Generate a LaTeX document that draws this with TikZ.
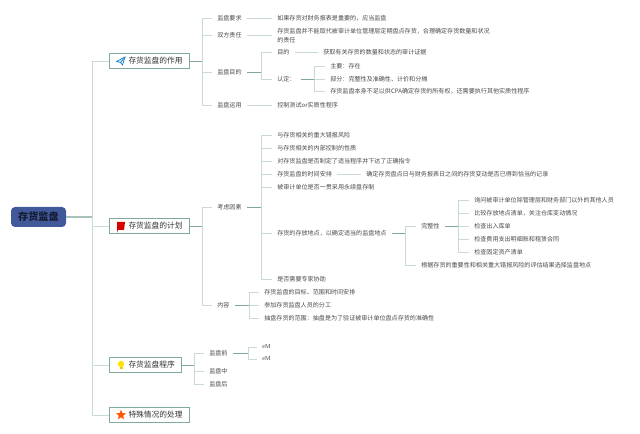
\documentclass[tikz,border=0pt]{standalone}
\usepackage{fontspec}
\setmainfont{Noto Sans CJK SC}
\newfontfamily\latinserif{Liberation Serif}
\usetikzlibrary{calc, positioning}
\usetikzlibrary{shapes.geometric}
\definecolor{rootblue}{HTML}{41599B}
\definecolor{roottext}{HTML}{141C33}
\definecolor{boxline}{HTML}{7FAA9C}
\definecolor{lightlink}{HTML}{C9DAD3}
\definecolor{darklink}{HTML}{7FA898}
\definecolor{bodytext}{HTML}{4A4A4A}
\tikzset{
  rootbox/.style={fill=rootblue,rounded corners=3pt,minimum width=41.25pt,minimum height=15pt,inner sep=0pt,text=roottext,font=\fontsize{7.6}{9}\selectfont\bfseries},
  mainbox/.style={draw=boxline,line width=0.75pt,fill=white,anchor=west,inner xsep=5.25pt,inner ysep=0pt,minimum height=11.5pt,text=black!80,font=\fontsize{5.8}{7}\selectfont},
  leaf/.style={anchor=west,inner xsep=3.8pt,inner ysep=0pt,text=bodytext,align=left,font=\fontsize{4.55}{6.75}\selectfont},
  link/.style={draw=lightlink,line width=0.7pt},
  hub/.style={draw=darklink,line width=0.7pt},
}
\begin{document}
\begin{tikzpicture}[x=0.75pt,y=-0.75pt]
\useasboundingbox[fill=white] (0,0) rectangle (640,434);

% Root and the four main boxes
\node[rootbox] (root) at (38.5,217) {存货监盘};
\node[mainbox] (role) at (109,61) {\hspace*{9pt}存货监盘的作用};
\node[mainbox] (plan) at (109,226) {\hspace*{9pt}存货监盘的计划};
\node[mainbox] (proc) at (109,365) {\hspace*{9pt}存货监盘程序};
\node[mainbox] (special) at (109,415) {\hspace*{9pt}特殊情况的处理};

% Icons inside the boxes
\draw[cyan!60!blue,line width=0.5pt,fill=cyan!15] (116.5,61.5) -- (125,57) -- (122.5,65) -- (120.5,62.5) -- cycle;
\draw[cyan!60!blue,line width=0.5pt] (120.5,62.5) -- (125,57);
\fill[red!85!black] (117,222) -- (125,222) -- (124,230) -- (118,230) -- (117,233) -- cycle;
\fill[yellow!85!orange] (121,364) circle (3.2);
\fill[yellow!60!orange] (119.5,367) rectangle (122.5,369.5);
\node[star,star points=5,star point ratio=2.3,fill=orange!70!red,inner sep=0pt,minimum size=8pt] (staricon) at (121,415) {};

% Branch points
\coordinate (hubmain) at (92,217);
\coordinate (hubrole) at (202,61);
\coordinate (hubaim) at (261,72);
\coordinate (hubconfirm) at (314,79);
\coordinate (hubplan) at (202,226);
\coordinate (hubfactor) at (261,207);
\coordinate (hubplace) at (405,233);
\coordinate (hubfull) at (458,226.5);
\coordinate (hubcontent) at (249,305);
\coordinate (hubproc) at (194,365);
\coordinate (hubbefore) at (248,353);

% First branch
\node[leaf] (demand) at (212,18) {监盘要求};
\node[leaf] (duty) at (212,35) {双方责任};
\node[leaf] (aim) at (212,72) {监盘目的};
\node[leaf] (use) at (212,105) {监盘运用};
\node[leaf] (demandtext) at (272,18) {如果存货对财务报表是重要的，应当监盘};
\node[leaf] (dutytext) at (272,35.5) {存货监盘并不能取代被审计单位管理层定期盘点存货，合理确定存货数量和状况\\的责任};
\node[leaf] (usetext) at (272,105) {控制测试or实质性程序};
\node[leaf] (aimgoal) at (272,52) {目的};
\node[leaf] (confirm) at (272,79) {认定：};
\node[leaf] (aimtext) at (318,52) {获取有关存货的数量和状态的审计证据};
\node[leaf] (mainly) at (325,66) {主要：存在};
\node[leaf] (partly) at (325,79) {部分：完整性及准确性、计价和分摊};
\node[leaf] (notenough) at (325,91.5) {存货监盘本身不足以供CPA确定存货的所有权，还需要执行其他实质性程序};

% Second branch
\node[leaf] (factor) at (212,207) {考虑因素};
\node[leaf] (content) at (212,305) {内容};
\node[leaf] (risk) at (272,135) {与存货相关的重大错报风险};
\node[leaf] (control) at (272,148) {与存货相关的内部控制的性质};
\node[leaf] (order) at (272,161) {对存货监盘是否制定了适当程序并下达了正确指令};
\node[leaf] (timing) at (272,174) {存货监盘的时间安排};
\node[leaf] (perpetual) at (272,187) {被审计单位是否一贯采用永续盘存制};
\node[leaf] (place) at (272,233) {存货的存放地点，以确定适当的监盘地点};
\node[leaf] (expert) at (272,279) {是否需要专家协助};
\node[leaf] (timingtext) at (361,174) {确定存货盘点日与财务报表日之间的存货变动是否已得到恰当的记录};
\node[leaf] (full) at (416,226.5) {完整性};
\node[leaf] (choose) at (416,265.5) {根据存货的重要性和相关重大错报风险的评估结果选择监盘地点};
\node[leaf] (ask) at (469,200) {询问被审计单位除管理层和财务部门以外的其他人员};
\node[leaf] (compare) at (469,213.5) {比较存放地点清单，关注仓库变动情况};
\node[leaf] (stock) at (469,226.5) {检查出入库单};
\node[leaf] (rent) at (469,239.5) {检查费用支出明细账和租赁合同};
\node[leaf] (asset) at (469,252.5) {检查固定资产清单};
\node[leaf] (target) at (259,292) {存货监盘的目标、范围和时间安排};
\node[leaf] (staff) at (259,305) {参加存货监盘人员的分工};
\node[leaf] (sample) at (259,318) {抽盘存货的范围：抽盘是为了验证被审计单位盘点存货的准确性};

% Third branch
\node[leaf] (before) at (204,353) {监盘前};
\node[leaf] (during) at (204,371) {监盘中};
\node[leaf] (after) at (204,384) {监盘后};
\node[leaf,font=\fontsize{4.6}{6}\latinserif] (emone) at (257,347) {eM};
\node[leaf,font=\fontsize{4.6}{6}\latinserif] (emtwo) at (257,359) {eM};

% Connectors from the root
\draw[hub,line width=1pt,draw=boxline!70] (root.east) -- (hubmain);
\draw[link] (hubmain) |- (role.west);
\draw[link] (hubmain) |- (plan.west);
\draw[link] (hubmain) |- (proc.west);
\draw[link] (hubmain) |- (special.west);

% Connectors of the first branch
\draw[hub] (role.east) -- (hubrole);
\draw[link] (hubrole) |- (demand.west);
\draw[link] (hubrole) |- (duty.west);
\draw[link] (hubrole) |- (aim.west);
\draw[link] (hubrole) |- (use.west);
\draw[link] (demand) -- (demandtext);
\draw[link] (duty) -- (duty-|dutytext.west);
\draw[link] (use) -- (usetext);
\draw[hub] (aim.east) -- (hubaim);
\draw[link] (hubaim) |- (aimgoal.west);
\draw[link] (hubaim) |- (confirm.west);
\draw[link] (aimgoal) -- (aimtext);
\draw[hub] (confirm.east) -- (hubconfirm);
\draw[link] (hubconfirm) |- (mainly.west);
\draw[link] (hubconfirm) -- (partly.west);
\draw[link] (hubconfirm) |- (notenough.west);

% Connectors of the second branch
\draw[hub] (plan.east) -- (hubplan);
\draw[link] (hubplan) |- (factor.west);
\draw[link] (hubplan) |- (content.west);
\draw[hub] (factor.east) -- (hubfactor);
\draw[link] (hubfactor) |- (risk.west);
\draw[link] (hubfactor) |- (control.west);
\draw[link] (hubfactor) |- (order.west);
\draw[link] (hubfactor) |- (timing.west);
\draw[link] (hubfactor) |- (perpetual.west);
\draw[link] (hubfactor) |- (place.west);
\draw[link] (hubfactor) |- (expert.west);
\draw[link] (timing) -- (timingtext);
\draw[hub] (place.east) -- (hubplace);
\draw[link] (hubplace) |- (full.west);
\draw[link] (hubplace) |- (choose.west);
\draw[hub] (full.east) -- (hubfull);
\draw[link] (hubfull) |- (ask.west);
\draw[link] (hubfull) |- (compare.west);
\draw[link] (hubfull) -- (stock.west);
\draw[link] (hubfull) |- (rent.west);
\draw[link] (hubfull) |- (asset.west);
\draw[hub] (content.east) -- (hubcontent);
\draw[link] (hubcontent) |- (target.west);
\draw[link] (hubcontent) -- (staff.west);
\draw[link] (hubcontent) |- (sample.west);

% Connectors of the third branch
\draw[hub] (proc.east) -- (hubproc);
\draw[link] (hubproc) |- (before.west);
\draw[link] (hubproc) |- (during.west);
\draw[link] (hubproc) |- (after.west);
\draw[hub] (before.east) -- (hubbefore);
\draw[link] (hubbefore) |- (emone.west);
\draw[link] (hubbefore) |- (emtwo.west);
\end{tikzpicture}
\end{document}
